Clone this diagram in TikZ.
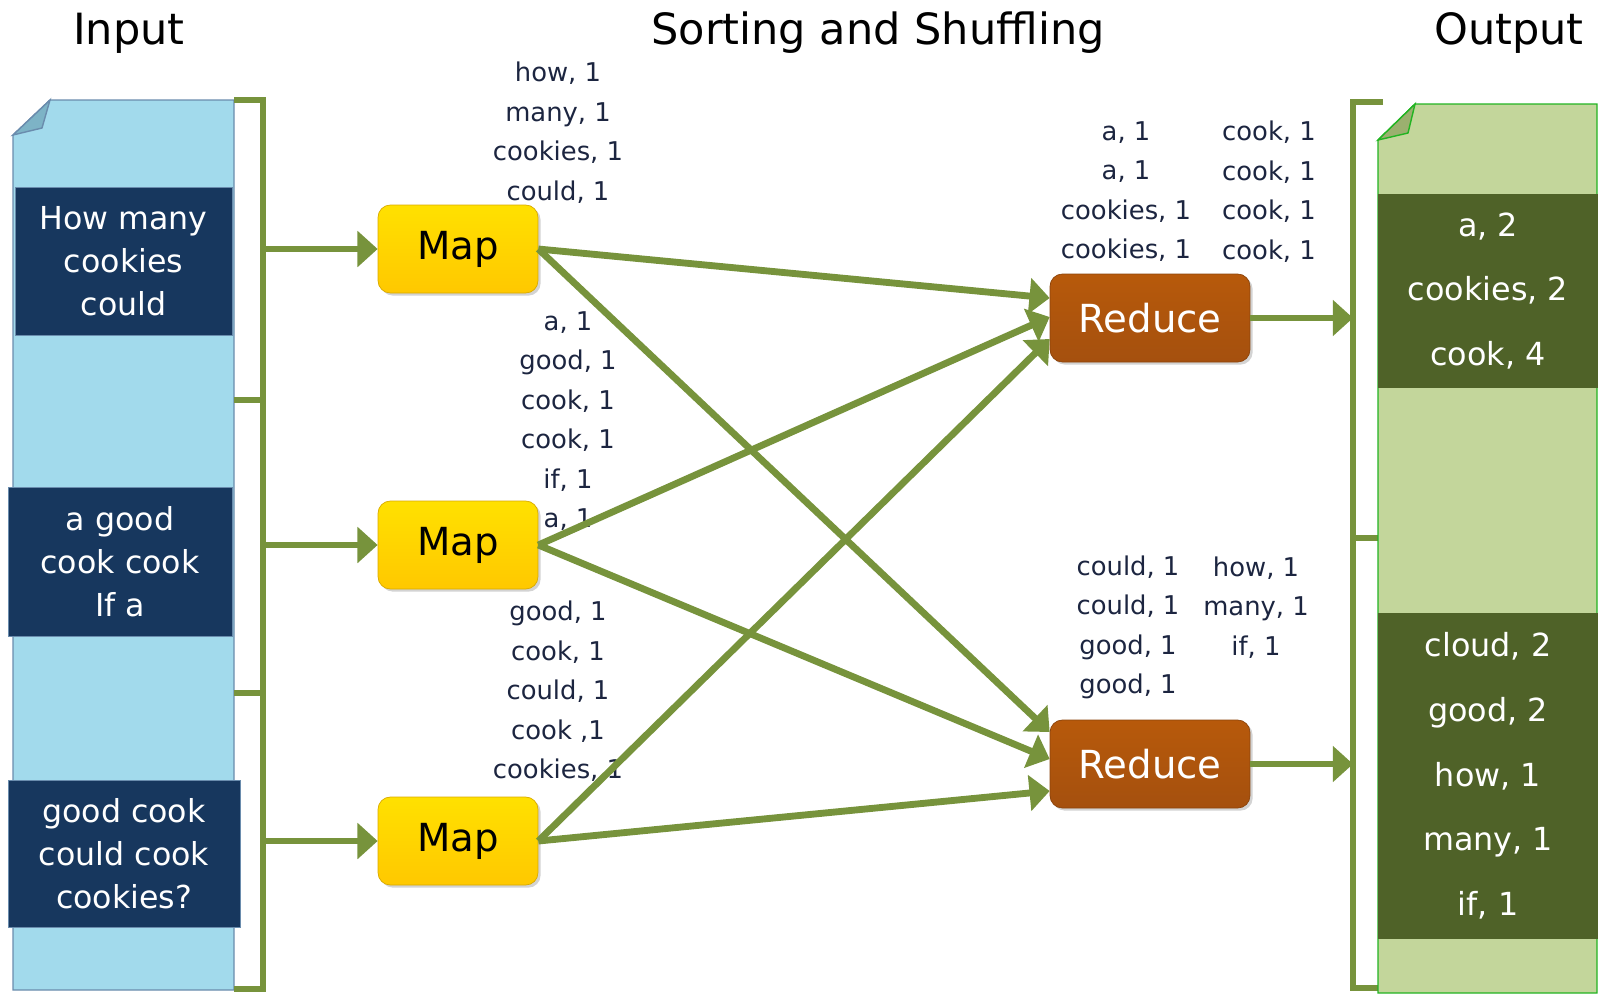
\documentclass[tikz,border=0pt]{standalone}
\usepackage{fontspec}
\setmainfont{DejaVu Sans}
\usetikzlibrary{arrows.meta, positioning, calc, shadows}
\definecolor{mrgreen}{HTML}{77933C}
\definecolor{mrnavy}{HTML}{17375E}
\definecolor{mrsky}{HTML}{A2DAEC}
\definecolor{mrskydark}{HTML}{7DB3C6}
\definecolor{mrskyedge}{HTML}{6A8CAD}
\definecolor{mryellow}{HTML}{FFC800}
\definecolor{mrbrown}{HTML}{A5500E}
\definecolor{mrolive}{HTML}{4F6228}
\definecolor{mrlime}{HTML}{C3D69B}
\definecolor{mrlimedark}{HTML}{9BB06F}
\definecolor{mrlimeedge}{HTML}{22B422}
\definecolor{mrlabel}{HTML}{1C2540}

\begin{document}
\begin{tikzpicture}[
  x=0.02cm, y=-0.02cm,
  titletext/.style={font=\fontsize{24.5}{28}\selectfont},
  mapnode/.style={rectangle, rounded corners=7pt, draw=mryellow!85!black, top color=mryellow!55!yellow, bottom color=mryellow, minimum width=3.2cm, minimum height=1.76cm, font=\fontsize{22}{26}\selectfont, drop shadow={shadow xshift=1.5pt, shadow yshift=-1.5pt, opacity=0.35}},
  reducenode/.style={rectangle, rounded corners=7pt, draw=mrbrown!85!black, top color=mrbrown!80!orange, bottom color=mrbrown, text=white, minimum width=4cm, minimum height=1.76cm, font=\fontsize{22}{26}\selectfont, drop shadow={shadow xshift=1.5pt, shadow yshift=-1.5pt, opacity=0.35}},
  innode/.style={rectangle, fill=mrnavy, draw=mrskyedge, text=white, align=center, inner sep=0pt, font=\fontsize{18}{24.3}\selectfont},
  outnode/.style={rectangle, fill=mrolive, text=white, align=center, inner sep=0pt, font=\fontsize{18.1}{36.8}\selectfont},
  kvnode/.style={align=center, inner sep=0pt, text=mrlabel, font=\fontsize{14.7}{22.5}\selectfont},
  flow/.style={draw=mrgreen, line width=3.9pt, -{Triangle[length=11.5pt, width=20pt]}},
  brace/.style={draw=mrgreen, line width=3.9pt},
]
\useasboundingbox (0,0) rectangle (1598,995);

% Titles
\node[titletext] (tin) at (129,33) {Input};
\node[titletext] (tmid) at (878,33) {Sorting and Shuffling};
\node[titletext] (tout) at (1509,33) {Output};

% Input document
\draw[fill=mrsky, draw=mrskyedge, line width=0.8pt] (13,135) -- (50,100) -- (234,100) -- (234,990) -- (13,990) -- cycle;
\draw[fill=mrskydark, draw=mrskyedge, line width=0.8pt] (13,135) -- (50,100) -- (42,128) -- cycle;

\node[innode, minimum width=4.34cm, minimum height=2.96cm] (in1) at (123.5,261) {How many\\cookies\\could};
\node[innode, minimum width=4.48cm, minimum height=2.98cm] (in2) at (120,561.5) {a good\\cook cook\\If a};
\node[innode, minimum width=4.64cm, minimum height=2.94cm] (in3) at (124,853.5) {good cook\\could cook\\cookies?};

% Input bracket
\draw[brace] (234,100) -- (263,100) -- (263,989) -- (234,989);
\draw[brace] (263,400) -- (234,400);
\draw[brace] (263,693) -- (234,693);
\coordinate (inA) at (263,249);
\coordinate (inB) at (263,545);
\coordinate (inC) at (263,841);

% Map stage
\node[mapnode] (map1) at (458,249) {Map};
\node[mapnode] (map2) at (458,545) {Map};
\node[mapnode] (map3) at (458,841) {Map};

\draw[flow] (inA) -- (map1);
\draw[flow] (inB) -- (map2);
\draw[flow] (inC) -- (map3);

\node[kvnode] (kv1) at (558,132.5) {how, 1\\many, 1\\cookies, 1\\could, 1};
\node[kvnode] (kv2) at (568,421) {a, 1\\good, 1\\cook, 1\\cook, 1\\if, 1\\a, 1};
\node[kvnode] (kv3) at (558,691.5) {good, 1\\cook, 1\\could, 1\\cook ,1\\cookies, 1};

% Reduce stage
\node[reducenode] (red1) at (1150,318) {Reduce};
\node[reducenode] (red2) at (1150,764) {Reduce};

\node[kvnode] (kv4) at (1126,191.5) {a, 1\\a, 1\\cookies, 1\\cookies, 1};
\node[kvnode] (kv5) at (1269,191.5) {cook, 1\\cook, 1\\cook, 1\\cook, 1};
\node[kvnode] (kv6) at (1128,627.5) {could, 1\\could, 1\\good, 1\\good, 1};
\node[kvnode] (kv7) at (1256,607.5) {how, 1\\many, 1\\if, 1};

\draw[flow] (map1.east) -- ($(red1.west)+(0,-20)$);
\draw[flow] (map1.east) -- ($(red2.west)+(0,-32)$);
\draw[flow] (map2.east) -- ($(red1.west)+(0,-1)$);
\draw[flow] (map2.east) -- ($(red2.west)+(0,-5)$);
\draw[flow] (map3.east) -- ($(red1.west)+(0,21)$);
\draw[flow] (map3.east) -- ($(red2.west)+(0,27)$);

% Output bracket
\draw[brace] (1383,102) -- (1353,102) -- (1353,988) -- (1380,988);
\draw[brace] (1353,538) -- (1383,538);
\coordinate (outA) at (1353,318);
\coordinate (outB) at (1353,764);
\draw[flow] (red1.east) -- (outA);
\draw[flow] (red2.east) -- (outB);

% Output document
\draw[fill=mrlime, draw=mrlimeedge, line width=0.8pt] (1378,140) -- (1415,104) -- (1597,104) -- (1597,993) -- (1378,993) -- cycle;
\draw[fill=mrlimedark, draw=mrlimeedge, line width=0.8pt] (1378,140) -- (1415,104) -- (1408,133) -- cycle;

\node[outnode, minimum width=4.4cm, minimum height=3.88cm] (out1) at (1488,291) {a, 2\\cookies, 2\\cook, 4};
\node[outnode, minimum width=4.4cm, minimum height=6.52cm] (out2) at (1488,776) {cloud, 2\\good, 2\\how, 1\\many, 1\\if, 1};

\end{tikzpicture}
\end{document}
